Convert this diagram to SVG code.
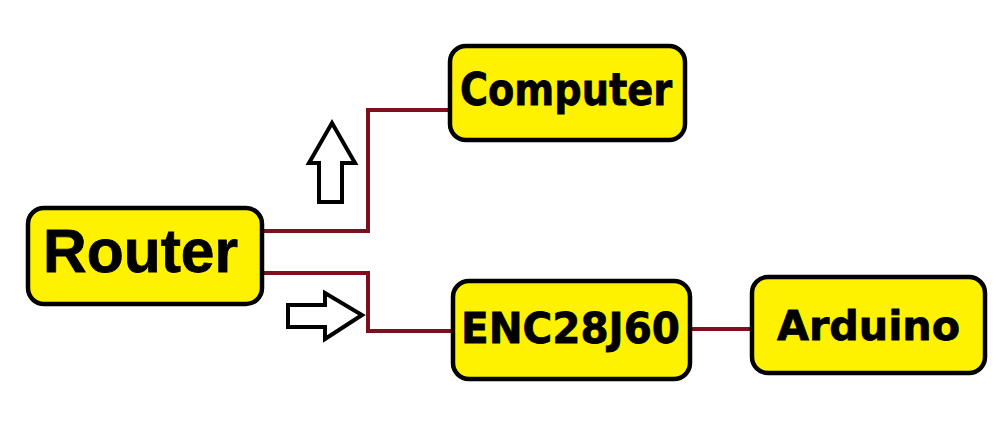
<svg xmlns="http://www.w3.org/2000/svg" width="1006" height="423" viewBox="0 0 1006 423">
<style>
.box{fill:#fff200;stroke:#000;stroke-width:4.5}
.lbl{font-family:"DejaVu Sans","Liberation Sans",sans-serif;font-weight:bold;fill:#000;stroke:#000;stroke-width:0.8}
.wire{fill:none;stroke:#7d0f1f;stroke-width:4}
.arr{fill:#fff;stroke:#000;stroke-width:4;stroke-linejoin:miter}
</style>
<rect width="1006" height="423" fill="#fff"/>
<g id="connectors">
<polyline class="wire" points="262,231 368,231 368,110 450,110"/>
<polyline class="wire" points="262,273 368,273 368,331 453,331"/>
<line class="wire" x1="690" y1="329" x2="752" y2="329"/>
</g>
<g id="arrow-up">
<polygon class="arr" points="332,123 355,163 342,163 342,202 319,202 319,163 309,163"/>
</g>
<g id="arrow-right">
<polygon class="arr" points="288,305 325,305 325,293 362,315 325,339 325,327 288,327"/>
</g>
<g id="router">
<rect class="box" x="28" y="208" width="234" height="96" rx="16"/>
<text class="lbl" x="43" y="272" font-size="62" style="font-family:'Liberation Sans',sans-serif" textLength="195" lengthAdjust="spacingAndGlyphs">Router</text>
</g>
<g id="computer">
<rect class="box" x="450" y="46" width="235" height="94" rx="16"/>
<text class="lbl" x="460" y="105" font-size="44" textLength="212" lengthAdjust="spacingAndGlyphs">Computer</text>
</g>
<g id="enc28j60">
<rect class="box" x="453" y="281" width="237" height="98" rx="16"/>
<text class="lbl" x="461" y="343" font-size="42" textLength="219" lengthAdjust="spacingAndGlyphs">ENC28J60</text>
</g>
<g id="arduino">
<rect class="box" x="752" y="277" width="233" height="96" rx="16"/>
<text class="lbl" x="777" y="340" font-size="41" textLength="183" lengthAdjust="spacingAndGlyphs">Arduino</text>
</g>
</svg>
